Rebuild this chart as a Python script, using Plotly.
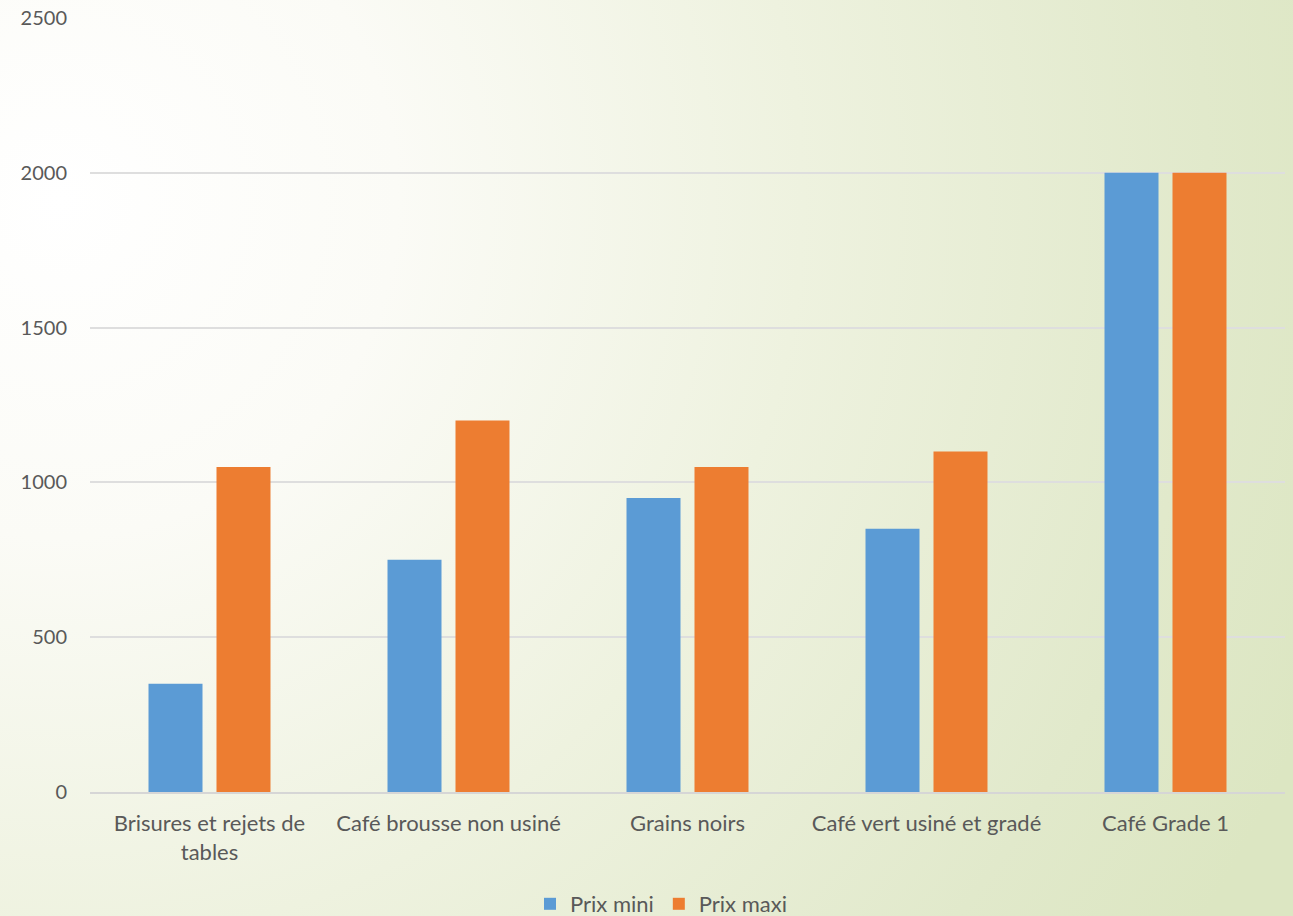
import base64
import plotly.graph_objects as go

categories = ["Brisures et rejets de<br>tables", "Café brousse non usiné", "Grains noirs",
              "Café vert usiné et gradé", "Café Grade 1"]
prix_mini = [350, 750, 950, 850, 2000]
prix_maxi = [1050, 1200, 1050, 1100, 2000]
y_ticks = [0, 500, 1000, 1500, 2000, 2500]

W, H = 1293, 916
ML, MR, MT, MB = 90, 8, 18, 124
PW, PH = W - ML - MR, H - MT - MB

# soft radial background: near white at the top-left, pale green toward the right
svg = f"""<svg xmlns='http://www.w3.org/2000/svg' width='{W}' height='{H}' viewBox='0 0 {W} {H}' preserveAspectRatio='none'>
<defs><radialGradient id='g' gradientUnits='userSpaceOnUse' cx='60' cy='200' r='1350'>
<stop offset='0' stop-color='#FFFFFF'/>
<stop offset='0.25' stop-color='#FBFBF6'/>
<stop offset='0.55' stop-color='#EEF2DF'/>
<stop offset='0.85' stop-color='#E1E9CB'/>
<stop offset='1' stop-color='#DCE6C2'/>
</radialGradient></defs>
<rect x='0' y='0' width='{W}' height='{H}' fill='url(#g)'/></svg>"""
bg_uri = "data:image/svg+xml;base64," + base64.b64encode(svg.encode("utf-8")).decode("ascii")

family = "Lato, Open Sans, sans-serif"
text_font = dict(family=family, size=22, color="#595959")
num_font = dict(family=family, size=20, color="#595959")

fig = go.Figure()
fig.add_trace(go.Bar(name="Prix mini", x=categories, y=prix_mini, marker_color="#5B9BD5",
                     marker_line_width=0))
fig.add_trace(go.Bar(name="Prix maxi", x=categories, y=prix_maxi, marker_color="#ED7D31",
                     marker_line_width=0))

fig.update_layout(
    width=W, height=H,
    margin=dict(l=ML, r=MR, t=MT, b=MB, autoexpand=False),
    barmode="group", bargap=0.431, bargroupgap=0.206,
    paper_bgcolor="#F2F5E8", plot_bgcolor="rgba(0,0,0,0)",
    font=text_font,
    showlegend=True,
    legend=dict(orientation="h", x=(661 - ML) / PW, xanchor="center", y=(792 - 883) / PH,
                yanchor="top", font=text_font, bgcolor="rgba(0,0,0,0)", itemwidth=30),
    images=[dict(source=bg_uri, xref="paper", yref="paper", x=-ML / PW, y=1 + MT / PH,
                 sizex=W / PW, sizey=H / PH, sizing="stretch", layer="below",
                 xanchor="left", yanchor="top")],
)
fig.update_xaxes(showgrid=False, ticks="", showline=True, linecolor="#D6D6D6", linewidth=2,
                 tickfont=text_font, ticklabelstandoff=11, automargin=False)
fig.update_yaxes(range=[0, 2500], tickvals=y_ticks, showgrid=True, gridcolor="#DEDEDE", gridwidth=2,
                 zeroline=False, ticks="", showline=False, tickfont=num_font, ticklabelstandoff=22,
                 automargin=False)

fig.write_html("out.html")
